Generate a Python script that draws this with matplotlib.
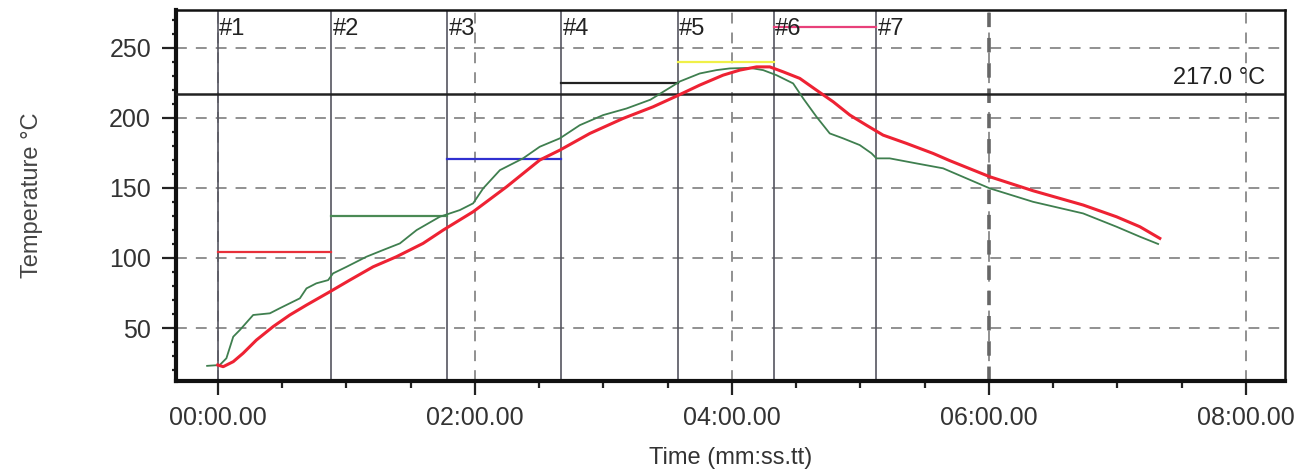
import matplotlib.pyplot as plt
from matplotlib.ticker import MultipleLocator
import matplotlib.transforms as mtransforms

plt.rcParams['font.family'] = ['Liberation Sans', 'DejaVu Sans']

# zone boundaries (seconds) and zone labels
zone_t = [0, 53, 107, 160.4, 214.7, 259.6, 307.5]
zone_names = ['#1', '#2', '#3', '#4', '#5', '#6', '#7']

# setpoint segments per zone (°C) and colours
set_start = [0, 53, 107, 160.4, 214.7, 259.6]
set_end = [53, 107, 160.4, 214.7, 259.6, 307.5]
set_temp = [104, 130, 170.5, 225, 240, 265]
set_color = ['#e8303a', '#4a8a55', '#3030d0', '#222222', '#f0f048', '#e8407a']

liquidus = 217.0

# measured profile, sensor 1 (green)
green_t = [-5, 0.9, 4, 7.2, 10.3, 16.5, 24.3, 28.9, 38.3, 41.4, 46, 51.5, 53.8,
           60.1, 69.4, 77.2, 85, 92.8, 103.6, 113, 119.2, 123.9, 131.7, 142.5,
           150.3, 159.7, 169, 179.9, 190.8, 202, 207.9, 212.6, 215.7, 225, 232.8,
           239, 248.4, 254.6, 260.8, 268.6, 273.3, 279.5, 285.7, 291.9, 299.7,
           305.2, 307.5, 313.7, 326.2, 338.6, 360.4, 380.6, 404, 419.6, 430.5, 439]
green_v = [23, 23.6, 28.4, 43.8, 48.6, 59.3, 60.5, 64.1, 71.2, 78.3, 81.9, 84.2, 89,
           93.7, 100.9, 105.7, 110.4, 119.9, 129.4, 134.2, 139, 149.7, 162.7, 171.1,
           179.4, 185.4, 194.8, 202, 206.7, 213, 218.6, 223, 226, 231.7, 234.1,
           235.3, 235.7, 234.1, 230.5, 224.6, 213.9, 200.8, 188.9, 185.4, 180.6,
           174.7, 171.1, 171.1, 167.5, 164, 149.7, 140.1, 131.8, 122.3, 115.2, 110]

# measured profile, sensor 2 (red)
red_t = [0, 2.5, 7.2, 11.8, 18, 25.8, 33.6, 41.4, 52.3, 61.6, 72.5, 83.4, 95.8,
         105.2, 119.2, 134.8, 150.3, 159.7, 173.7, 189.2, 203.2, 214.1, 225, 235.9,
         243.7, 251.5, 257.7, 263.9, 271.7, 279.5, 287.3, 295.1, 302.8, 310.6,
         321.5, 334, 341.7, 360.4, 380.6, 404, 419.6, 430.5, 439.8]
red_v = [23.6, 22.4, 26, 32, 41.4, 51, 59.3, 66.4, 75.9, 84.2, 93.7, 100.9, 110.4,
         119.9, 133, 150.8, 169.9, 177, 188.9, 199.6, 207.9, 215.5, 223.4, 230.5,
         234.1, 236.4, 236.4, 232.9, 228.2, 219.8, 211.5, 202, 194.8, 187.7,
         181.8, 174.6, 169.5, 158, 148, 137.8, 129.4, 122.3, 114]

x_ticks = [0, 120, 240, 360, 480]
x_labels = ['00:00.00', '02:00.00', '04:00.00', '06:00.00', '08:00.00']
y_ticks = [50, 100, 150, 200, 250]

fig = plt.figure(figsize=(13.1, 4.7), dpi=100)
ax = fig.add_axes([0.1344, 0.1894, 0.8466, 0.7893])

# grid
for xt in x_ticks:
    ax.axvline(xt, color='#888888', lw=1.3, ls=(0, (6, 5)), zorder=1)
for yt in y_ticks:
    ax.axhline(yt, color='#888888', lw=1.3, ls=(0, (6, 5)), zorder=1)
ax.axvline(360, color='#666666', lw=2.6, ls=(0, (4, 3)), zorder=1)

# zone markers
trans = mtransforms.blended_transform_factory(ax.transData, ax.transAxes)
for zt, name in zip(zone_t, zone_names):
    ax.axvline(zt, color='#555560', lw=1.2, zorder=2)
    ax.annotate(name, xy=(zt, 0.948), xycoords=trans, xytext=(1, 0),
                textcoords='offset points', va='center', ha='left',
                fontsize=17, color='#222222', zorder=5)

# setpoints
for s0, s1, tv, c in zip(set_start, set_end, set_temp, set_color):
    ax.plot([s0, s1], [tv, tv], color=c, lw=1.6, zorder=3)

# liquidus line
ax.axhline(liquidus, color='#222222', lw=1.8, zorder=3)
ax.annotate('%.1f °C' % liquidus, xy=(0.982, liquidus),
            xycoords=mtransforms.blended_transform_factory(ax.transAxes, ax.transData),
            xytext=(0, 4), textcoords='offset points', ha='right', va='bottom',
            fontsize=17, color='#222222')

# profiles
ax.plot(green_t, green_v, color='#3f7f4f', lw=1.3, zorder=4)
ax.plot(red_t, red_v, color='#ee2233', lw=2.2, zorder=4)

ax.set_xlim(-19.5, 498.3)
ax.set_ylim(12.2, 277)
ax.set_xticks(x_ticks)
ax.set_xticklabels(x_labels)
ax.set_yticks(y_ticks)
ax.xaxis.set_minor_locator(MultipleLocator(30))
ax.yaxis.set_minor_locator(MultipleLocator(10))
ax.tick_params(which='major', direction='out', length=10, width=1.6,
               labelsize=18, colors='#222222', labelcolor='#333333', pad=8)
ax.tick_params(which='minor', direction='out', length=5, width=1.6, colors='#222222')
ax.tick_params(axis='y', which='minor', length=3)

for side in ['left', 'bottom']:
    ax.spines[side].set_linewidth(3)
for side in ['top', 'right']:
    ax.spines[side].set_linewidth(1.8)
for sp in ax.spines.values():
    sp.set_color('#111111')

ax.set_xlabel('Time (mm:ss.tt)', fontsize=17, color='#333333', labelpad=12)
ax.set_ylabel('Temperature °C', fontsize=17, color='#444444', labelpad=48)

fig.savefig('out.png', dpi=100)
